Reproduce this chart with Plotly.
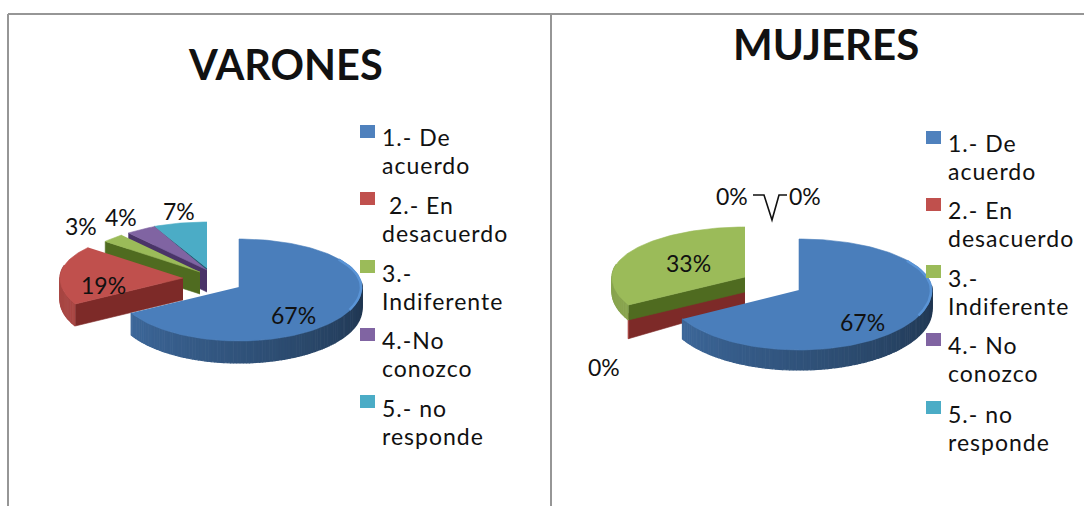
import math
import plotly.graph_objects as go

categories = ["1.- De|acuerdo", " 2.- En|desacuerdo", "3.-|Indiferente", "4.-No|conozco", "5.- no|responde"]
categories_m = ["1.- De|acuerdo", "2.- En|desacuerdo", "3.-|Indiferente", "4.- No|conozco", "5.- no|responde"]
varones = [67, 19, 3, 4, 7]
mujeres = [67, 0, 33, 0, 0]
colors = ["#4a7ebb", "#c0504d", "#9bbb59", "#8064a2", "#4bacc6"]
walls = ["#2f5688", "#7d2a28", "#4f6b20", "#4a3468", "#1f5f74"]

FONT = "Lato"
fig = go.Figure()


def hexmul(c, f):
    r, g, b = int(c[1:3], 16), int(c[3:5], 16), int(c[5:7], 16)
    return "rgb(%d,%d,%d)" % (r * f, g * f, b * f)


def poly(xs, ys, color, lw=0.6):
    fig.add_trace(go.Scatter(x=xs, y=ys, mode="lines", fill="toself", fillcolor=color,
                             line=dict(color=color, width=lw), hoverinfo="skip", showlegend=False))


def pt(g, t):
    cx, cy, rx, rt, rb = g[:5]
    c = math.cos(math.radians(t))
    return cx + rx * math.sin(math.radians(t)), cy - (rt if c > 0 else rb) * c


def slice3d(g, a0, a1, color, wall, depth, rim_fn, wall_on=True):
    cx, cy = g[0], g[1]
    n = max(2, int((a1 - a0) / 1.5))
    ang = [a0 + (a1 - a0) * i / n for i in range(n + 1)]
    if wall_on:
        p = pt(g, a0)
        poly([cx, p[0], p[0], cx], [cy, p[1], p[1] + depth, cy + depth], wall)
    for u, v in zip(ang[:-1], ang[1:]):
        m = (u + v) / 2
        if 85 < m < 285:
            p, q = pt(g, u), pt(g, v)
            poly([p[0], q[0], q[0], p[0]], [p[1], q[1], q[1] + depth, p[1] + depth],
                 hexmul(color, rim_fn(m)), lw=1.2)
    pts = [pt(g, t) for t in ang]
    poly([cx] + [p[0] for p in pts], [cy] + [p[1] for p in pts], color)


def blue_rim(t):
    return min(0.82, 0.42 + (t - 90) / 150 * 0.4)


def side_rim(t):
    return 0.88


def pie(values, geoms, depths, order):
    starts, acc = [], 0
    for v in values:
        starts.append(acc)
        acc += v * 3.6
    for i in order:
        a0 = starts[i]
        a1 = a0 + values[i] * 3.6
        slice3d(geoms[i], a0, a1, colors[i], walls[i], depths[i],
                blue_rim if i == 0 else side_rim, wall_on=i != 0)
    # lighter rim highlight on the right of the blue slice
    arc = [pt(geoms[0], t) for t in range(55, 118, 3)]
    fig.add_trace(go.Scatter(x=[p[0] - 1 for p in arc], y=[p[1] for p in arc], mode="lines",
                             line=dict(color="#5a94d6", width=2.5), hoverinfo="skip", showlegend=False))


# centre x, centre y, radius x, radius up, radius down
geo_v = [(239, 287, 123, 48, 54), (183, 278, 123, 48, 54), (200, 272, 123, 48, 54),
         (207, 270, 123, 48, 54), (207, 268, 123, 46, 54)]
pie(varones, geo_v, [22] * 5, [4, 3, 2, 1, 0])

geo_m = [(799, 290, 133, 51, 60), (745, 280, 133, 51, 70), (745, 277, 133, 50, 58),
         (745, 277, 133, 50, 58), (745, 277, 133, 50, 58)]
pie(mujeres, geo_m, [20, 25, 15, 15, 15], [1, 2, 0])

annotations = []


def text(x, y, s, size, bold=False):
    annotations.append(dict(x=x, y=y, xref="x", yref="y", text=("<b>%s</b>" % s) if bold else s,
                            showarrow=False, xanchor="center", yanchor="middle",
                            font=dict(family=FONT, size=size, color="#111111")))


text(285, 64, "VARONES", 41.5, True)
text(826, 44, "MUJERES", 42, True)

pos_v = [(293, 315), (103, 285), (81, 226), (121, 217), (179, 211)]
pos_m = [(862, 322), (604, 367), (688, 263), (732, 196), (805, 196)]
for vals, pos in ((varones, pos_v), (mujeres, pos_m)):
    for v, (x, y) in zip(vals, pos):
        text(x, y, "%d%%" % v, 23)


def legend(labels, sx, tx, rows, lines):
    for i, lab in enumerate(labels):
        fig.add_shape(type="rect", x0=sx, x1=sx + 15, y0=rows[i], y1=rows[i] + 13,
                      fillcolor=["#4f81bd", "#c0504d", "#9bbb59", "#8064a2", "#4bacc6"][i], line_width=0)
        for part, y in zip(lab.split("|"), lines[i]):
            s = part.replace(" ", "\u00a0", 1) if part.startswith(" ") else part
            annotations.append(dict(x=tx, y=y, xref="x", yref="y",
                                    text="<span style='letter-spacing:1px'>%s</span>" % s,
                                    showarrow=False, xanchor="left", yanchor="middle",
                                    font=dict(family=FONT, size=23, color="#111111")))


legend(categories, 360, 380, [125, 192, 260, 328, 395],
       [(137, 165), (205, 233), (273, 301), (340, 368), (408, 436)])
legend(categories_m, 926, 946, [131, 198, 265, 333, 401],
       [(143, 171), (210, 238), (278, 306), (345, 373), (414, 442)])

# leader lines and panel frame
fig.add_shape(type="path", path="M753,195 L764,195 L772,220 L779,195 L787,195", line=dict(color="#111111", width=1.6))
for x0, y0, x1, y1 in [(8, 14, 1084, 14), (8, 14, 8, 506), (551, 14, 551, 506)]:
    fig.add_shape(type="line", x0=x0, y0=y0, x1=x1, y1=y1, line=dict(color="#969696", width=2))

fig.update_layout(width=1084, height=506, margin=dict(l=0, r=0, t=0, b=0),
                  paper_bgcolor="white", plot_bgcolor="white", showlegend=False,
                  annotations=annotations,
                  xaxis=dict(range=[0, 1084], visible=False, fixedrange=True),
                  yaxis=dict(range=[506, 0], visible=False, fixedrange=True))
fig.write_html("out.html", config=dict(displayModeBar=False),
               post_script="document.body.style.margin='0';document.body.style.overflow='hidden';")
